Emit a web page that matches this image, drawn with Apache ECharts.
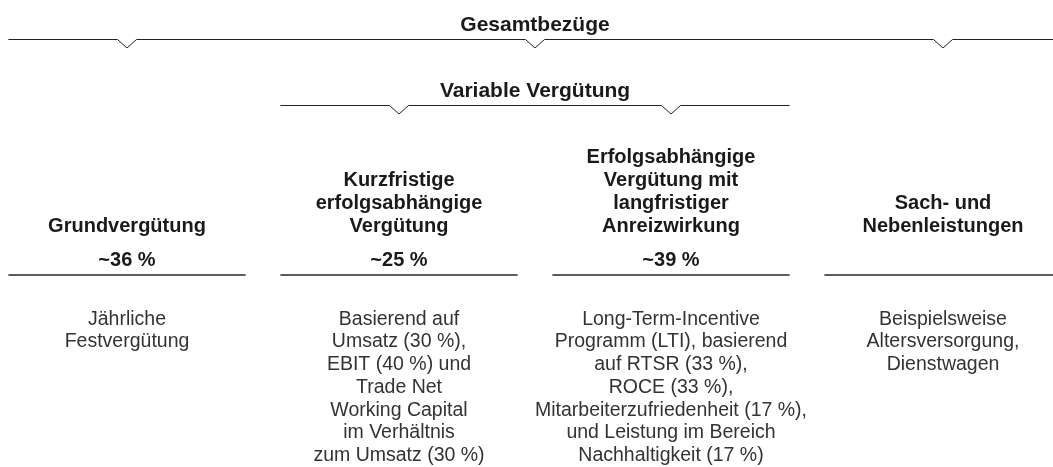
<!DOCTYPE html>
<html>
<head>
<meta charset="utf-8">
<script src="https://cdn.jsdelivr.net/npm/echarts@6/dist/echarts.min.js"></script>
<style>
html, body { margin: 0; padding: 0; background: #fff; }
#chart { width: 1053px; height: 467px; }
</style>
</head>
<body>
<div id="chart"></div>
<script>
// Spalten der Vergütung
const columns = [
  'Grundvergütung',
  'Kurzfristige\nerfolgsabhängige\nVergütung',
  'Erfolgsabhängige\nVergütung mit\nlangfristiger\nAnreizwirkung',
  'Sach- und\nNebenleistungen'
];
const shares = [36, 25, 39, null];
const details = [
  'Jährliche\nFestvergütung',
  'Basierend auf\nUmsatz (30 %),\nEBIT (40 %) und\nTrade Net\nWorking Capital\nim Verhältnis\nzum Umsatz (30 %)',
  'Long-Term-Incentive\nProgramm (LTI), basierend\nauf RTSR (33 %),\nROCE (33 %),\nMitarbeiterzufriedenheit (17 %),\nund Leistung im Bereich\nNachhaltigkeit (17 %)',
  'Beispielsweise\nAltersversorgung,\nDienstwagen'
];
// Klammern über den Spalten
const groupNames = ['Gesamtbezüge', 'Variable Vergütung'];
const groupParts = [[[0], [1, 2], [3]], [[1], [2]]];

const HALF = 0.436;
const FONT = '"Liberation Sans", Arial, sans-serif';

const chart = echarts.init(document.getElementById('chart'));

const option = {
  animation: false,
  grid: { left: 0, right: 0, top: 0, bottom: 0 },
  xAxis: { type: 'value', min: -127 / 272, max: (1053 - 127) / 272, show: false },
  yAxis: { type: 'value', min: 0, max: 1, show: false },
  series: [
    {
      type: 'custom',
      name: 'spalten',
      data: columns.map((c, i) => [i]),
      renderItem(params, api) {
        const i = params.dataIndex;
        const cx = api.coord([i, 0])[0];
        const x1 = api.coord([i - HALF, 0])[0];
        const x2 = api.coord([i + HALF, 0])[0];
        const children = [
          {
            type: 'text',
            style: {
              text: columns[i], x: cx, y: 238, align: 'center', verticalAlign: 'bottom',
              font: 'bold 20px ' + FONT, lineHeight: 23, fill: '#1a1a1a'
            }
          },
          {
            type: 'line',
            shape: { x1: x1, y1: 275, x2: x2, y2: 275 },
            style: { stroke: '#5c5c5c', lineWidth: 2 }
          },
          {
            type: 'text',
            style: {
              text: details[i], x: cx, y: 308, align: 'center', verticalAlign: 'top',
              font: '19.5px ' + FONT, lineHeight: 22.7, fill: '#333'
            }
          }
        ];
        if (shares[i] != null) {
          children.push({
            type: 'text',
            style: {
              text: '~' + shares[i] + ' %', x: cx, y: 260, align: 'center', verticalAlign: 'middle',
              font: 'bold 20px ' + FONT, fill: '#1a1a1a'
            }
          });
        }
        return { type: 'group', children: children };
      }
    },
    {
      type: 'custom',
      name: 'klammern',
      data: groupNames.map((g, i) => [i]),
      renderItem(params, api) {
        const k = params.dataIndex;
        const parts = groupParts[k];
        const lineY = [39.5, 105.5][k];
        const first = parts[0][0];
        const lastPart = parts[parts.length - 1];
        const last = lastPart[lastPart.length - 1];
        const xs = api.coord([first - HALF, 0])[0];
        const xe = api.coord([last + HALF, 0])[0];
        const pts = [[xs, lineY]];
        parts.forEach(p => {
          const mid = p.reduce((a, b) => a + b, 0) / p.length;
          const nx = api.coord([mid, 0])[0];
          pts.push([nx - 9.5, lineY], [nx, lineY + 8.5], [nx + 9.5, lineY]);
        });
        pts.push([xe, lineY]);
        const tx = api.coord([(first + last) / 2, 0])[0];
        return {
          type: 'group',
          children: [
            {
              type: 'polyline',
              shape: { points: pts },
              style: { stroke: '#222', lineWidth: 1, fill: null }
            },
            {
              type: 'text',
              style: {
                text: groupNames[k], x: tx, y: lineY - 14.5, align: 'center', verticalAlign: 'middle',
                font: 'bold 21px ' + FONT, fill: '#1a1a1a'
              }
            }
          ]
        };
      }
    }
  ]
};

chart.setOption(option);
</script>
</body>
</html>
